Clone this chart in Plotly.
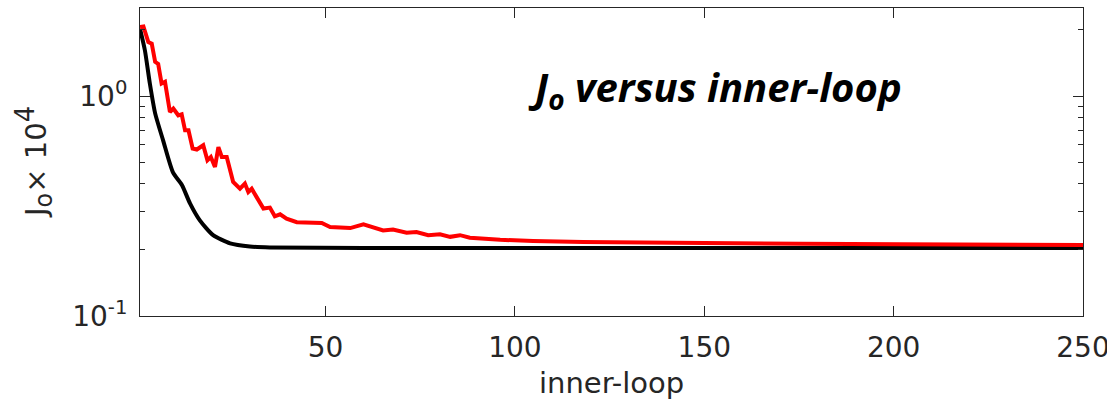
import plotly.graph_objects as go

# Black curve (smooth)
black_x = [1, 2.3, 3.6, 5, 7.1, 9.7, 12.1, 14.2, 16.8, 20.3, 24.8, 30, 35.3, 60, 100, 150, 200, 250]
black_y = [2.02, 1.61, 1.14, 0.834, 0.629, 0.450, 0.393, 0.325, 0.272, 0.233, 0.214, 0.207, 0.205,
           0.204, 0.204, 0.204, 0.204, 0.204]

# Red curve (noisy)
red_x = [1, 1.9, 3.2, 4.1, 5.0, 5.8, 6.7, 7.6, 8.9, 9.8, 11.1, 12.0, 12.9, 13.8, 14.9, 16.0,
         17.7, 18.8, 19.7, 20.8, 21.7, 22.6, 23.9, 25.6, 27.4, 28.7, 29.6, 30.5, 31.8, 33.6,
         35.3, 36.6, 38.0, 39.7, 42.4, 45.9, 49.0, 51.2, 56.5, 60.0, 62.6, 65.2, 67.8, 71.4,
         74.0, 77.1, 80.2, 82.9, 85.5, 88.1, 96.1, 104.8, 118, 131, 144.4, 157.6, 175.3,
         201.7, 228, 250]
red_y = [2.06, 2.07, 1.76, 1.73, 1.43, 1.40, 1.14, 1.16, 0.846, 0.876, 0.817, 0.826, 0.698,
         0.698, 0.577, 0.571, 0.597, 0.510, 0.528, 0.476, 0.586, 0.528, 0.528, 0.407, 0.379,
         0.400, 0.366, 0.379, 0.347, 0.308, 0.311, 0.284, 0.290, 0.277, 0.267, 0.267, 0.265,
         0.254, 0.251, 0.261, 0.254, 0.245, 0.247, 0.239, 0.241, 0.233, 0.235, 0.229, 0.233,
         0.227, 0.222, 0.219, 0.217, 0.216, 0.214, 0.213, 0.213, 0.212, 0.211, 0.210]

x_ticks = [50, 100, 150, 200, 250]
y_ticks = [0.1, 1]
y_ticktext = ["10<sup>-1</sup>", "10<sup>0</sup>"]
y_minor = [0.2, 0.3, 0.4, 0.5, 0.6, 0.7, 0.8, 0.9, 2]

AX = "#262626"
FONT = "DejaVu Sans"

fig = go.Figure()
fig.add_trace(go.Scatter(x=black_x, y=black_y, mode="lines",
                         line=dict(color="black", width=4, shape="spline", smoothing=0.6),
                         showlegend=False))
fig.add_trace(go.Scatter(x=red_x, y=red_y, mode="lines",
                         line=dict(color="#ff0000", width=4), showlegend=False))

fig.update_layout(
    width=1107, height=405,
    margin=dict(l=140, r=24, t=8, b=89, autoexpand=False),
    paper_bgcolor="white", plot_bgcolor="white",
    font=dict(family=FONT, color=AX, size=28),
    xaxis=dict(range=[1, 250.001], tickvals=x_ticks, ticks="inside", ticklen=10, tickcolor=AX,
               showline=True, linecolor=AX, linewidth=1, mirror="ticks", showgrid=False,
               zeroline=False, automargin=False, ticklabeloverflow="allow",
               ticklabelstandoff=6,
               tickfont=dict(size=28, color=AX, family=FONT)),
    yaxis=dict(type="log", range=[-1, 0.4], tickvals=y_ticks, ticktext=y_ticktext,
               ticks="inside", ticklen=10, tickcolor=AX, showline=True, linecolor=AX,
               linewidth=1, mirror="ticks", showgrid=False, zeroline=False, automargin=False,
               ticklabelstandoff=6,
               tickfont=dict(size=28, color=AX, family=FONT),
               minor=dict(tickvals=y_minor, ticks="inside", ticklen=5, tickcolor=AX,
                          showgrid=False)),
)

fig.add_annotation(text="inner-loop", xref="paper", yref="paper", x=0.5, y=0,
                   yshift=-67, showarrow=False, yanchor="middle",
                   font=dict(size=29, color=AX, family=FONT))
fig.add_annotation(text="J<sub><span style='font-size:24px'>o</span></sub>× 10<sup><span style='font-size:26px'>4</span></sup>",
                   xref="paper", yref="paper",
                   x=0, y=0.5, xshift=-106, showarrow=False, textangle=-90,
                   xanchor="center", yanchor="middle",
                   font=dict(size=29, color=AX, family=FONT))
fig.add_annotation(text="<b><i>J<sub>o</sub> versus inner-loop</i></b>", xref="paper",
                   yref="paper", x=0.61, y=0.74, showarrow=False,
                   xanchor="center", yanchor="middle",
                   font=dict(size=40, color="black", family="Open Sans"))

fig.write_html("out.html", config={"displayModeBar": False},
               post_script="document.body.style.margin='0';document.body.style.padding='0';")
